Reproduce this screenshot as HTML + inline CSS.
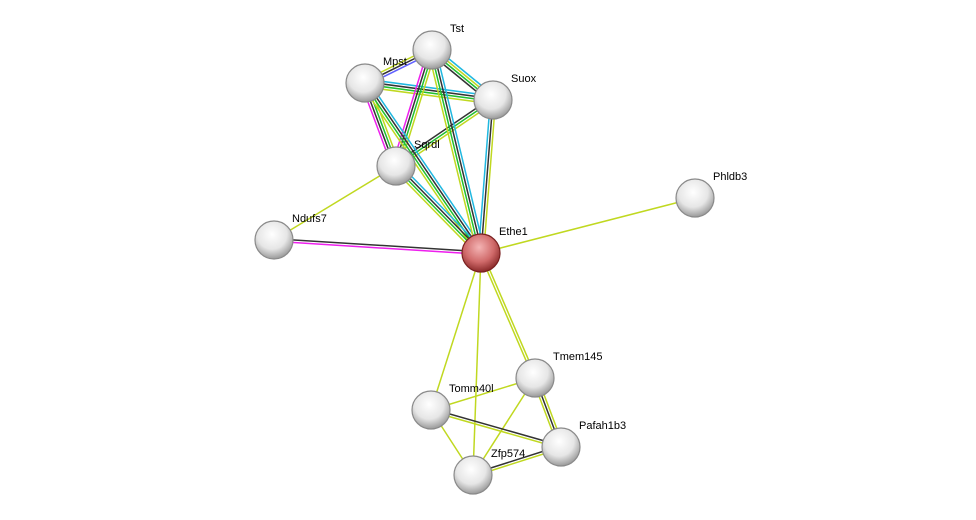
<!DOCTYPE html>
<html><head><meta charset="utf-8"><style>
html,body{margin:0;padding:0;background:#fff;}
svg{display:block;}
text{font-family:"Liberation Sans",Arial,sans-serif;font-size:11px;fill:#000;}
</style></head><body>
<svg id="s" width="976" height="520" viewBox="0 0 976 520" xmlns="http://www.w3.org/2000/svg">
<defs>
<radialGradient id="g" cx="45%" cy="35%" r="65%">
<stop offset="0" stop-color="#ffffff"/><stop offset="0.6" stop-color="#e6e6e6"/><stop offset="1" stop-color="#9a9a9a"/>
</radialGradient>
<radialGradient id="r" cx="45%" cy="35%" r="65%">
<stop offset="0" stop-color="#f4b4b4"/><stop offset="0.6" stop-color="#d06a6a"/><stop offset="1" stop-color="#8a2a2a"/>
</radialGradient>
</defs>
<g id="edges"></g>
<g id="nodes"></g>
</svg>
<script>
var N={Tst:[432,50],Mpst:[365,83],Suox:[493,100],Sqrdl:[396,166],Phldb3:[695,198],Ndufs7:[274,240],Ethe1:[481,253],Tmem145:[535,378],Tomm40l:[431,410],Pafah1b3:[561,447],Zfp574:[473,475]};
var B="#20b8e0",K="#333",G="#20c030",L="#c0d820",M="#ee20ee",P="#6060ff";
var E=[["Tst","Mpst",[P,K,L]],["Tst","Suox",[B,L,G,K]],["Mpst","Suox",[B,K,G,L]],
["Mpst","Sqrdl",[L,G,K,M]],["Tst","Sqrdl",[L,G,K,M]],["Suox","Sqrdl",[L,G,K]],
["Mpst","Ethe1",[B,K,G,L]],["Tst","Ethe1",[B,K,G,L]],["Suox","Ethe1",[L,K,B]],
["Sqrdl","Ethe1",[B,K,G,L]],["Sqrdl","Ndufs7",[L]],["Ndufs7","Ethe1",[K,M]],
["Ethe1","Phldb3",[L]],["Ethe1","Tmem145",[L,L]],["Ethe1","Tomm40l",[L]],["Ethe1","Zfp574",[L]],
["Tmem145","Tomm40l",[L]],["Tmem145","Zfp574",[L]],["Tmem145","Pafah1b3",[L,K,L]],
["Tomm40l","Pafah1b3",[K,L]],["Tomm40l","Zfp574",[L]],["Zfp574","Pafah1b3",[K,L]]];
var ns="http://www.w3.org/2000/svg",eg=document.getElementById("edges"),ng=document.getElementById("nodes");
E.forEach(function(e){var a=N[e[0]],b=N[e[1]],dx=b[0]-a[0],dy=b[1]-a[1],l=Math.hypot(dx,dy),px=-dy/l,py=dx/l,n=e[2].length,s=2.6;
e[2].forEach(function(c,i){var o=(i-(n-1)/2)*s;var ln=document.createElementNS(ns,"line");
ln.setAttribute("x1",a[0]+px*o);ln.setAttribute("y1",a[1]+py*o);ln.setAttribute("x2",b[0]+px*o);ln.setAttribute("y2",b[1]+py*o);
ln.setAttribute("stroke",c);ln.setAttribute("stroke-width","1.5");eg.appendChild(ln);});});
for(var k in N){var p=N[k];var c=document.createElementNS(ns,"circle");c.setAttribute("cx",p[0]);c.setAttribute("cy",p[1]);c.setAttribute("r",19);
c.setAttribute("fill",k=="Ethe1"?"url(#r)":"url(#g)");c.setAttribute("stroke",k=="Ethe1"?"#7a2020":"#8a8a8a");c.setAttribute("stroke-width","1.2");ng.appendChild(c);
var t=document.createElementNS(ns,"text");t.setAttribute("x",p[0]+18);t.setAttribute("y",p[1]-18);t.textContent=k;ng.appendChild(t);}
</script>
</body></html>
